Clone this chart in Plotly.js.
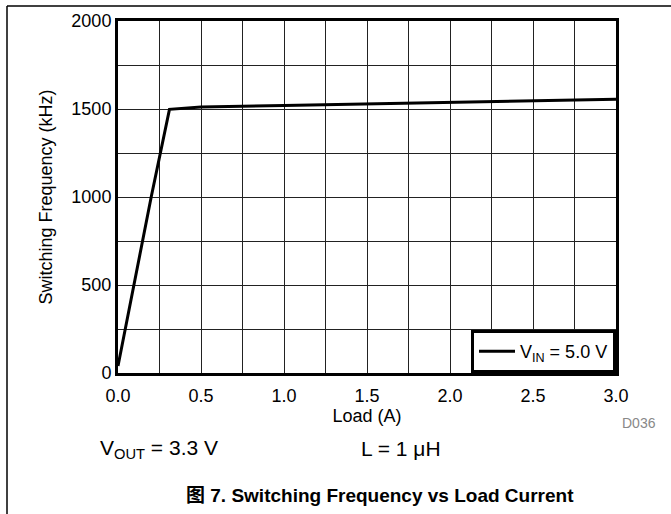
<!DOCTYPE html>
<html>
<head>
<meta charset="utf-8">
<script src="https://cdn.plot.ly/plotly-3.0.1.min.js"></script>
<style>html,body{margin:0;padding:0;background:#fff;}#chart{width:671px;height:514px;}</style>
</head>
<body>
<div id="chart"></div>
<script>
var loadA = [0, 0.2, 0.31, 0.5, 1.0, 1.5, 2.0, 2.5, 3.0];
var freqKHz = [40, 1000, 1498, 1512, 1520, 1528, 1537, 1546, 1555];
var seriesName = "V<sub>IN</sub> = 5.0 V";
var xTicks = [0, 0.5, 1.0, 1.5, 2.0, 2.5, 3.0];
var xTickText = ["0.0", "0.5", "1.0", "1.5", "2.0", "2.5", "3.0"];
var yTicks = [0, 500, 1000, 1500, 2000];

var FONT = "Liberation Sans, Arial, sans-serif";

var trace = {
  x: loadA, y: freqKHz, type: "scatter", mode: "lines",
  name: seriesName,
  line: {color: "#000", width: 3}
};

var W = 498, H = 352, L = 118, T = 21;
function px(x){ return (x - L) / W; }
function py(y){ return (T + H - y) / H; }

var layout = {
  width: 671, height: 514,
  margin: {l: 118, r: 55, t: 21, b: 141},
  paper_bgcolor: "#fff", plot_bgcolor: "#fff",
  font: {family: FONT, size: 18, color: "#000"},
  showlegend: true,
  legend: {
    x: 1, y: 0, xanchor: "right", yanchor: "bottom",
    bgcolor: "#fff", bordercolor: "#000", borderwidth: 3,
    itemwidth: 36,
    font: {family: FONT, size: 18, color: "#000"}
  },
  xaxis: {
    range: [0, 3], tickvals: xTicks, ticktext: xTickText,
    showgrid: true, gridcolor: "#222", gridwidth: 1,
    minor: {dtick: 0.25, showgrid: true, gridcolor: "#222", gridwidth: 1},
    showline: true, linecolor: "#000", linewidth: 3, mirror: true,
    ticks: "", zeroline: false, ticklabelstandoff: 4,
    tickfont: {family: FONT, size: 18},
    title: {text: "Load (A)", font: {family: FONT, size: 18}, standoff: 1}
  },
  yaxis: {
    range: [0, 2000], tickvals: yTicks,
    showgrid: true, gridcolor: "#222", gridwidth: 1,
    minor: {dtick: 250, showgrid: true, gridcolor: "#222", gridwidth: 1},
    showline: true, linecolor: "#000", linewidth: 3, mirror: true,
    ticks: "", zeroline: false,
    tickfont: {family: FONT, size: 18},
    title: {text: "Switching Frequency (kHz)", font: {family: FONT, size: 18}, standoff: 15}
  },
  shapes: [
    {type: "line", xref: "paper", yref: "paper", x0: px(7), x1: px(671), y0: py(6), y1: py(6), line: {color: "#000", width: 1.5}},
    {type: "line", xref: "paper", yref: "paper", x0: px(7), x1: px(7), y0: py(6), y1: py(514), line: {color: "#000", width: 1.5}}
  ],
  annotations: [
    {xref: "paper", yref: "paper", x: px(658), y: py(423), text: "D036", showarrow: false, font: {family: FONT, size: 14, color: "#888"}, xanchor: "right", yanchor: "middle"},
    {xref: "paper", yref: "paper", x: px(98), y: py(449), text: "V<sub>OUT</sub> = 3.3 V", showarrow: false, font: {family: FONT, size: 21}, xanchor: "left", yanchor: "middle"},
    {xref: "paper", yref: "paper", x: px(359), y: py(448), text: "L = 1 μH", showarrow: false, font: {family: FONT, size: 21}, xanchor: "left", yanchor: "middle"},
    {xref: "paper", yref: "paper", x: px(380), y: py(495), text: "<b>图 7. Switching Frequency vs Load Current</b>", showarrow: false, font: {family: "Liberation Sans, Noto Sans CJK SC, sans-serif", size: 19}, xanchor: "center", yanchor: "middle"}
  ]
};

Plotly.newPlot("chart", [trace], layout, {displayModeBar: false, staticPlot: true});
</script>
</body>
</html>
